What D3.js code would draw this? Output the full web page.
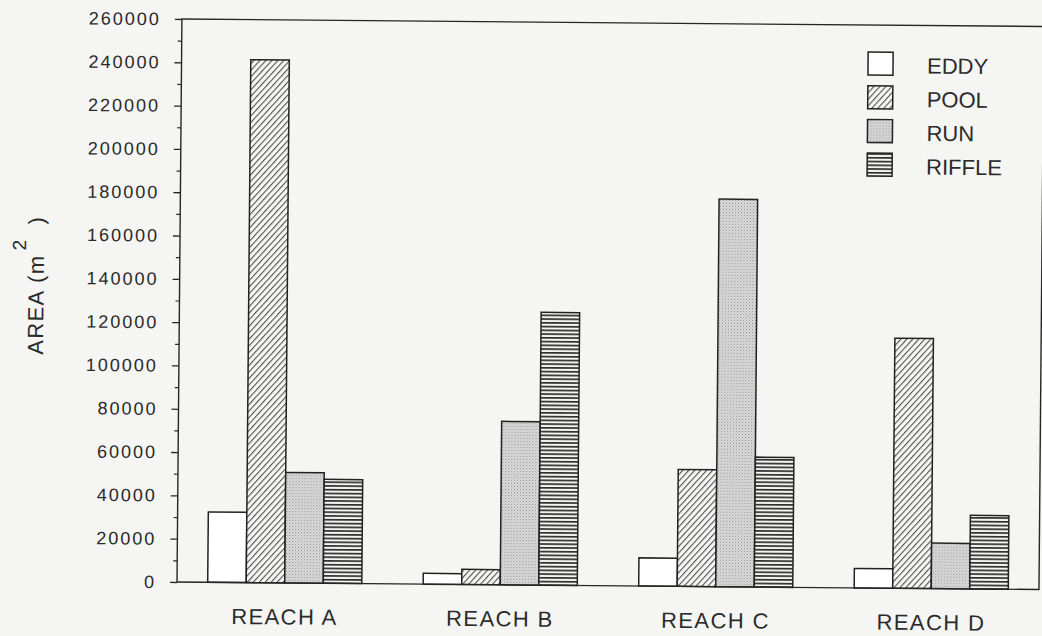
<!DOCTYPE html>
<html>
<head>
<meta charset="utf-8">
<script src="https://cdn.jsdelivr.net/npm/d3@7"></script>
<style>
  html, body { margin: 0; padding: 0; background: #f5f5f3; }
  svg { display: block; }
  text { font-family: "Liberation Sans", Arial, sans-serif; fill: #2a2a2a; }
</style>
</head>
<body>
<svg id="chart" width="1042" height="636"></svg>
<script>
// Habitat area by reach
const categories = ["REACH A", "REACH B", "REACH C", "REACH D"];
const seriesNames = ["EDDY", "POOL", "RUN", "RIFFLE"];
const eddy   = [32500,   5000,  13000,   9000];
const pool   = [241500,  7000,  54000, 115500];
const run    = [51000,  75500, 179000,  21000];
const riffle = [48000, 126000,  60000,  34000];
const majorTicks = [0, 20000, 40000, 60000, 80000, 100000, 120000, 140000,
                    160000, 180000, 200000, 220000, 240000, 260000];
const minorTicks = [10000, 30000, 50000, 70000, 90000, 110000, 130000,
                    150000, 170000, 190000, 210000, 230000, 250000];

const seriesValues = [eddy, pool, run, riffle];
const fills = ["#ffffff", "url(#pool)", "url(#run)", "url(#riffle)"];

const svg = d3.select("#chart");

// fill patterns
const defs = svg.append("defs");
const pPool = defs.append("pattern").attr("id", "pool")
  .attr("patternUnits", "userSpaceOnUse").attr("width", 10).attr("height", 4.4)
  .attr("patternTransform", "rotate(-48)");
pPool.append("rect").attr("width", 10).attr("height", 4.4).attr("fill", "#f7f7f5");
pPool.append("rect").attr("y", 0).attr("width", 10).attr("height", 1.1).attr("fill", "#505050");

const pRun = defs.append("pattern").attr("id", "run")
  .attr("patternUnits", "userSpaceOnUse").attr("width", 3).attr("height", 3);
pRun.append("rect").attr("width", 3).attr("height", 3).attr("fill", "#dcdcdc");
pRun.append("rect").attr("x", 0).attr("y", 0).attr("width", 1).attr("height", 1).attr("fill", "#8c8c8c");
pRun.append("rect").attr("x", 1.5).attr("y", 1.5).attr("width", 1).attr("height", 1).attr("fill", "#a8a8a8");

const pRiffle = defs.append("pattern").attr("id", "riffle")
  .attr("patternUnits", "userSpaceOnUse").attr("width", 10).attr("height", 3.75);
pRiffle.append("rect").attr("width", 10).attr("height", 3.75).attr("fill", "#f4f4f2");
pRiffle.append("rect").attr("y", 0).attr("width", 10).attr("height", 1.7).attr("fill", "#2e2e2e");

// the whole plot sits at a slight tilt
const g = svg.append("g").attr("transform", "rotate(0.5, 177, 582)");

const x0 = d3.scaleBand().domain(categories).range([177, 1039])
  .paddingInner(0.285).paddingOuter(0.1425);
const x1 = d3.scaleBand().domain(seriesNames).range([0, x0.bandwidth()]);
const y = d3.scaleLinear().domain([0, 260000]).range([582, 19]);

// bars
const groups = g.selectAll("g.reach").data(categories).join("g")
  .attr("class", "reach")
  .attr("transform", d => `translate(${x0(d)},0)`);

groups.selectAll("rect").data((d, i) => seriesNames.map((s, j) => ({ s, j, v: seriesValues[j][i] })))
  .join("rect")
  .attr("x", d => x1(d.s))
  .attr("y", d => y(d.v))
  .attr("width", x1.bandwidth())
  .attr("height", d => y(0) - y(d.v))
  .attr("fill", d => fills[d.j])
  .attr("stroke", "#222")
  .attr("stroke-width", 1.5);

// frame
g.append("rect")
  .attr("x", 177).attr("y", y(260000))
  .attr("width", 1039 - 177).attr("height", y(0) - y(260000))
  .attr("fill", "none").attr("stroke", "#262626").attr("stroke-width", 1.4);

// y axis
const yAxis = g.append("g").attr("transform", "translate(177,0)")
  .call(d3.axisLeft(y).tickValues(majorTicks).tickSize(7).tickPadding(14)
    .tickFormat(d3.format("d")));
yAxis.select(".domain").remove();
yAxis.selectAll(".tick line").attr("stroke", "#262626").attr("stroke-width", 1.3);
yAxis.selectAll(".tick text")
  .style("font-family", '"Liberation Sans", Arial, sans-serif')
  .style("font-size", "18px")
  .style("letter-spacing", "2px")
  .attr("fill", "#2e2e2e");

const yMinor = g.append("g").attr("transform", "translate(177,0)")
  .call(d3.axisLeft(y).tickValues(minorTicks).tickSize(4).tickFormat(""));
yMinor.select(".domain").remove();
yMinor.selectAll(".tick line").attr("stroke", "#262626").attr("stroke-width", 1.2);

// category labels
g.selectAll("text.cat").data(categories).join("text")
  .attr("class", "cat")
  .attr("x", d => x0(d) + x0.bandwidth() / 2)
  .attr("y", 623.5)
  .attr("text-anchor", "middle")
  .style("font-size", "22px")
  .style("letter-spacing", "1.4px")
  .text(d => d);

// y axis title
const yTitle = g.append("text")
  .attr("transform", "translate(41,356) rotate(-90)")
  .style("font-size", "22px")
  .style("letter-spacing", "1.4px");
yTitle.append("tspan").text("AREA (m");
yTitle.append("tspan").attr("dx", 4).attr("dy", -18).style("font-size", "19px").text("2");
yTitle.append("tspan").attr("dx", 14).attr("dy", 18).text(")");

// legend
const legend = g.append("g").attr("transform", "translate(863.5,46)");
const items = legend.selectAll("g").data(seriesNames).join("g")
  .attr("transform", (d, i) => `translate(0,${i * 33.7})`);
items.append("rect")
  .attr("width", 25).attr("height", 23)
  .attr("fill", (d, i) => fills[i])
  .attr("stroke", "#222").attr("stroke-width", 1.5);
items.append("text")
  .attr("x", 59).attr("y", 21)
  .style("font-size", "22px")
  .text(d => d);
</script>
</body>
</html>
